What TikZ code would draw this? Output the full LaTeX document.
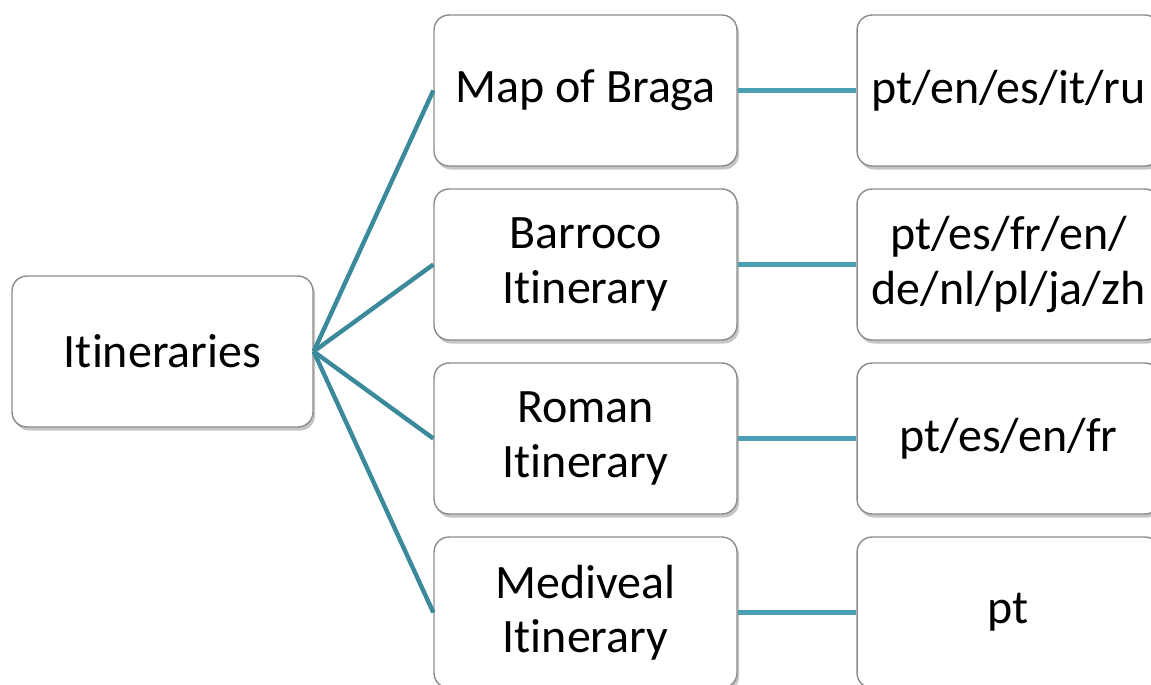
\documentclass[tikz,border=0pt]{standalone}
\usepackage{fontspec}
\setmainfont{Carlito}[RawFeature={-liga;-clig;-calt;-rlig;-dlig}]
\usetikzlibrary{shadows}
\definecolor{fanteal}{HTML}{3A8A9C}
\definecolor{linkteal}{HTML}{4A9FB5}
\definecolor{boxgray}{HTML}{8C8C8C}
\begin{document}
\begin{tikzpicture}[x=0.02cm,y=-0.02cm]

		\tikzstyle{every node}=[font=\fontsize{27.3}{31}\selectfont]
		\tikzstyle{itembox}=[draw=boxgray, line width=0.8pt, fill=white, rounded corners=0.3cm,
			minimum width=6.06cm, minimum height=3.02cm, inner sep=0pt, align=center,
			drop shadow={shadow xshift=1.2pt, shadow yshift=-2pt, opacity=0.45, fill=gray}]
		\tikzstyle{fanline}=[draw=fanteal, line width=2.5pt]
		\tikzstyle{linkline}=[draw=linkteal, line width=2.7pt]

		\clip (0,0) rectangle (1151,684);
		\useasboundingbox (0,0) rectangle (1151,684);

		\node[itembox, minimum width=6.02cm] (itin) at (162.5,351.5) {Itineraries};

		% middle column
		\node[itembox] (braga) at (585.5,90.5) {Map of Braga};
		\node[itembox] (barroco) at (585.5,264.5) {Barroco\\Itinerary};
		\node[itembox] (roman) at (585.5,438.5) {Roman\\Itinerary};
		\node[itembox] (medieval) at (585.5,612.5) {Mediveal\\Itinerary};

		% languages
		\node[itembox] (langbraga) at (1008.5,90.5) {pt/en/es/it/ru};
		\node[itembox] (langbarroco) at (1008.5,264.5) {pt/es/fr/en/\\de/nl/pl/ja/zh};
		\node[itembox] (langroman) at (1008.5,438.5) {pt/es/en/fr};
		\node[itembox] (langmedieval) at (1008.5,612.5) {pt};

		\foreach \m/\l in {braga/langbraga, barroco/langbarroco, roman/langroman, medieval/langmedieval}{
			\draw[fanline] (itin.east) -- (\m.west);
			\draw[linkline] (\m.east) -- (\l.west);
		}

\end{tikzpicture}
\end{document}
